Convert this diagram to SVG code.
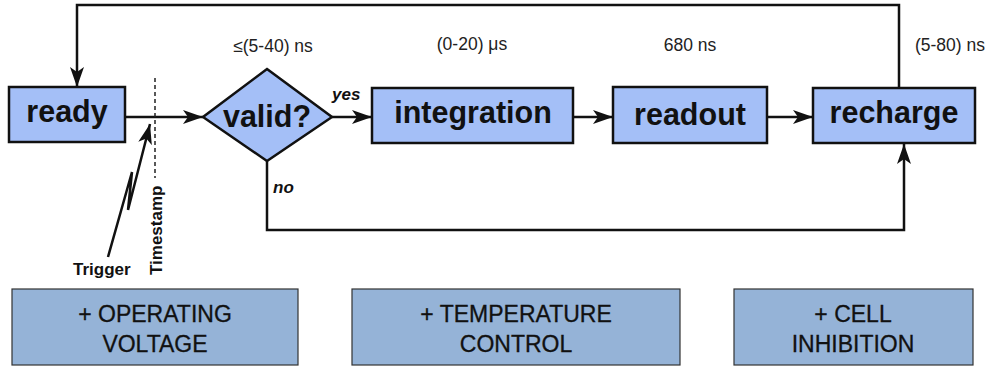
<svg xmlns="http://www.w3.org/2000/svg" width="993" height="366" viewBox="0 0 993 366">
  <style>
    .node { fill: #a4bff7; stroke: #111; stroke-width: 2.5; }
    .ctl { fill: #95b3d7; stroke: #333; stroke-width: 1.2; }
    .lbl { font-family: "Liberation Sans", Arial, sans-serif; font-weight: bold; font-size: 30.5px; fill: #111; text-anchor: middle; }
    .time { font-family: "Liberation Sans", Arial, sans-serif; font-size: 17.5px; fill: #222; text-anchor: middle; }
    .branch { font-family: "Liberation Sans", Arial, sans-serif; font-weight: bold; font-style: italic; font-size: 17px; fill: #111; }
    .small { font-family: "Liberation Sans", Arial, sans-serif; font-weight: bold; font-size: 17px; fill: #111; }
    .ctltxt { font-family: "Liberation Sans", Arial, sans-serif; font-size: 23px; fill: #111; text-anchor: middle; stroke: #111; stroke-width: 0.3; }
    .wire { fill: none; stroke: #111; stroke-width: 2.5; }
  </style>
  <defs>
    <marker id="arrow" viewBox="0 0 20 14" refX="20" refY="7" markerWidth="20" markerHeight="14" markerUnits="userSpaceOnUse" orient="auto">
      <path d="M0,0 L20,7 L0,14 L5,7 Z" fill="#111"/>
    </marker>
  </defs>

  <!-- connectors -->
  <g id="connectors">
    <path class="wire" d="M126,117 L203,117" marker-end="url(#arrow)"/>
    <path class="wire" d="M332,117 L372,117" marker-end="url(#arrow)"/>
    <path class="wire" d="M573,117 L613,117" marker-end="url(#arrow)"/>
    <path class="wire" d="M767,117 L813,117" marker-end="url(#arrow)"/>
    <!-- recharge back to ready -->
    <path class="wire" d="M899,88 L899,5 L77,5 L77,87" marker-end="url(#arrow)"/>
    <!-- invalid event goes straight to recharge -->
    <path class="wire" d="M267,161 L267,230 L904,230 L904,144" marker-end="url(#arrow)"/>
    <!-- trigger bolt -->
    <path class="wire" d="M108,257 L132,172 L128,210 L150,124" marker-end="url(#arrow)"/>
    <!-- timestamp marker -->
    <line x1="155" y1="78" x2="155" y2="178" stroke="#222" stroke-width="1.5" stroke-dasharray="4,3"/>
  </g>

  <g id="ready">
    <rect class="node" x="9" y="87" width="116" height="55"/>
    <text class="lbl" x="67" y="122">ready</text>
  </g>

  <g id="valid">
    <polygon class="node" points="267,69 332,117 267,161 203,117"/>
    <text class="lbl" x="267" y="127">valid?</text>
  </g>

  <g id="integration">
    <rect class="node" x="372" y="88" width="201" height="55"/>
    <text class="lbl" x="473" y="123">integration</text>
  </g>

  <g id="readout">
    <rect class="node" x="613" y="87" width="154" height="56"/>
    <text class="lbl" x="690" y="125">readout</text>
  </g>

  <g id="recharge">
    <rect class="node" x="813" y="88" width="162" height="55"/>
    <text class="lbl" x="894" y="123">recharge</text>
  </g>

  <g id="timings">
    <text class="time" x="273" y="52">≤(5-40) ns</text>
    <text class="time" x="472" y="50">(0-20) μs</text>
    <text class="time" x="690" y="51">680 ns</text>
    <text class="time" x="950" y="51">(5-80) ns</text>
  </g>

  <g id="branch-labels">
    <text class="branch" x="332" y="100">yes</text>
    <text class="branch" x="273" y="193">no</text>
  </g>

  <g id="trigger">
    <text class="small" x="73" y="275">Trigger</text>
    <text class="small" transform="translate(162,275) rotate(-90)">Timestamp</text>
  </g>

  <g id="operating-voltage">
    <rect class="ctl" x="12" y="289" width="286" height="76"/>
    <text class="ctltxt" x="155" y="322">+ OPERATING</text>
    <text class="ctltxt" x="155" y="352">VOLTAGE</text>
  </g>

  <g id="temperature-control">
    <rect class="ctl" x="352" y="289" width="328" height="76"/>
    <text class="ctltxt" x="516" y="322">+ TEMPERATURE</text>
    <text class="ctltxt" x="516" y="352">CONTROL</text>
  </g>

  <g id="cell-inhibition">
    <rect class="ctl" x="734" y="289" width="239" height="76"/>
    <text class="ctltxt" x="853" y="322">+ CELL</text>
    <text class="ctltxt" x="853" y="352">INHIBITION</text>
  </g>
</svg>
